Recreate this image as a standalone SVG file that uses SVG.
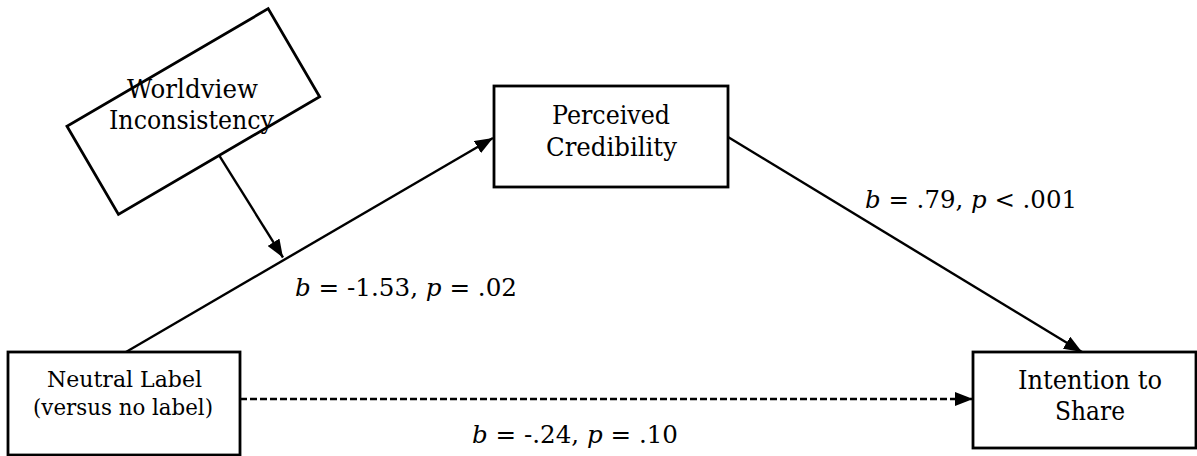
<svg xmlns="http://www.w3.org/2000/svg" width="1197" height="456" viewBox="0 0 1197 456">
<style>
.box{fill:#fff;stroke:#000;stroke-width:2.8}
.ln{fill:none;stroke:#000;stroke-width:2.4}
.dash{stroke-dasharray:7 3}
text{font-family:"DejaVu Serif","Liberation Serif",serif;fill:#000;text-anchor:middle}
.n{font-size:26px}
.s{font-size:22px}
.lab{font-size:25px;text-anchor:start}
.i{font-style:italic}
</style>
<defs>
<marker id="ah" markerUnits="userSpaceOnUse" markerWidth="18" markerHeight="14" refX="18" refY="7" orient="auto">
<path d="M0,0 L18,7 L0,14 z" fill="#000"/>
</marker>
</defs>
<g id="connectors">
<line class="ln" x1="126" y1="352" x2="493" y2="138" marker-end="url(#ah)"/>
<line class="ln" x1="728" y1="137" x2="1082" y2="352" marker-end="url(#ah)"/>
<line class="ln dash" x1="240" y1="399" x2="973" y2="399" marker-end="url(#ah)"/>
<line class="ln" x1="219.3" y1="155.7" x2="283" y2="257.5" marker-end="url(#ah)"/>
</g>
<g id="worldview">
<rect class="box" x="-116.5" y="-51" width="233" height="102" transform="translate(193.3,111.5) rotate(-30.3)"/>
<text class="n" x="192.5" y="98" textLength="131" lengthAdjust="spacingAndGlyphs">Worldview</text>
<text class="n" x="191.5" y="129" textLength="165" lengthAdjust="spacingAndGlyphs">Inconsistency</text>
</g>
<g id="perceived">
<rect class="box" x="494" y="86" width="234" height="101"/>
<text class="n" x="611" y="124" textLength="118" lengthAdjust="spacingAndGlyphs">Perceived</text>
<text class="n" x="611.5" y="156" textLength="131" lengthAdjust="spacingAndGlyphs">Credibility</text>
</g>
<g id="neutral">
<rect class="box" x="8" y="352" width="232" height="103"/>
<text class="s" x="124.5" y="387" textLength="155" lengthAdjust="spacingAndGlyphs">Neutral Label</text>
<text class="s" x="123" y="415" textLength="180" lengthAdjust="spacingAndGlyphs">(versus no label)</text>
</g>
<g id="intention">
<rect class="box" x="973" y="352" width="223" height="96"/>
<text class="n" x="1090" y="389" textLength="144" lengthAdjust="spacingAndGlyphs">Intention to</text>
<text class="n" x="1090" y="420" textLength="70" lengthAdjust="spacingAndGlyphs">Share</text>
</g>
<g id="labels">
<text class="lab" x="295" y="296" textLength="222" lengthAdjust="spacingAndGlyphs"><tspan class="i">b</tspan> = -1.53, <tspan class="i">p</tspan> = .02</text>
<text class="lab" x="865" y="208" textLength="212" lengthAdjust="spacingAndGlyphs"><tspan class="i">b</tspan> = .79, <tspan class="i">p</tspan> &lt; .001</text>
<text class="lab" x="472" y="443" textLength="206" lengthAdjust="spacingAndGlyphs"><tspan class="i">b</tspan> = -.24, <tspan class="i">p</tspan> = .10</text>
</g>
</svg>
